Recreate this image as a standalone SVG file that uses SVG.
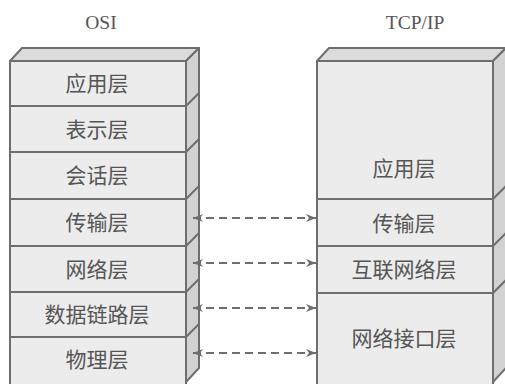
<svg xmlns="http://www.w3.org/2000/svg" width="505" height="384" viewBox="0 0 505 384">
<style>
.front{fill:#ececec;stroke:#6e6e6e;stroke-width:2}
.top{fill:#dcdcdc;stroke:#6e6e6e;stroke-width:2;stroke-linejoin:round}
.side{fill:#d2d2d2;stroke:#6e6e6e;stroke-width:2;stroke-linejoin:round}
.div{stroke:#6e6e6e;stroke-width:2;fill:none}
.lbl{font-family:"Noto Sans CJK SC","Noto Sans CJK JP",sans-serif;font-size:21px;fill:#555;text-anchor:middle}
.ttl{font-family:"Liberation Serif",serif;font-size:19.5px;fill:#555;text-anchor:middle}
.conn{stroke:#6e6e6e;stroke-width:1.8;stroke-dasharray:8 5;fill:none;marker-start:url(#ah);marker-end:url(#ah)}
</style>
<defs>
<marker id="ah" viewBox="0 0 10 8" refX="10" refY="4" markerWidth="10" markerHeight="8" markerUnits="userSpaceOnUse" orient="auto-start-reverse">
<path d="M0,0 L10,4 L0,8 L3,4 Z" fill="#6e6e6e"/>
</marker>
</defs>
<rect width="505" height="384" fill="#fff"/>
<text class="ttl" x="101" y="29">OSI</text>
<text class="ttl" x="415" y="29">TCP/IP</text>

<g id="osi-stack">
<polygon class="top" points="10,61 22,48 199,48 186,61"/>
<polygon class="side" points="186,61 199,48 199,368 186,382"/>
<path class="div" d="M186,106 L199,93 M186,152 L199,139 M186,199 L199,186 M186,246 L199,233 M186,292 L199,279 M186,337 L199,324"/>
</g>
<g id="osi-app"><rect class="front" x="10" y="61" width="176" height="45"/><text class="lbl" x="97" y="91">应用层</text></g>
<g id="osi-pres"><rect class="front" x="10" y="106" width="176" height="46"/><text class="lbl" x="97" y="137">表示层</text></g>
<g id="osi-sess"><rect class="front" x="10" y="152" width="176" height="47"/><text class="lbl" x="97" y="183">会话层</text></g>
<g id="osi-trans"><rect class="front" x="10" y="199" width="176" height="47"/><text class="lbl" x="97" y="230">传输层</text></g>
<g id="osi-net"><rect class="front" x="10" y="246" width="176" height="46"/><text class="lbl" x="97" y="277">网络层</text></g>
<g id="osi-link"><rect class="front" x="10" y="292" width="176" height="45"/><text class="lbl" x="97" y="322">数据链路层</text></g>
<g id="osi-phys"><rect class="front" x="10" y="337" width="176" height="48"/><text class="lbl" x="97" y="367">物理层</text></g>

<g id="tcp-stack">
<polygon class="top" points="317,61 329,48 506,48 493,61"/>
<polygon class="side" points="493,61 506,48 506,368 493,382"/>
<path class="div" d="M493,199 L506,186 M493,246 L506,233 M493,293 L506,280"/>
</g>
<g id="tcp-app"><rect class="front" x="317" y="61" width="176" height="138"/><text class="lbl" x="404" y="176">应用层</text></g>
<g id="tcp-trans"><rect class="front" x="317" y="199" width="176" height="47"/><text class="lbl" x="404" y="231">传输层</text></g>
<g id="tcp-inet"><rect class="front" x="317" y="246" width="176" height="47"/><text class="lbl" x="404" y="277">互联网络层</text></g>
<g id="tcp-if"><rect class="front" x="317" y="293" width="176" height="92"/><text class="lbl" x="404" y="346">网络接口层</text></g>

<g id="connectors">
<line class="conn" x1="193" y1="218" x2="316" y2="218"/>
<line class="conn" x1="193" y1="263" x2="316" y2="263"/>
<line class="conn" x1="193" y1="308" x2="316" y2="308"/>
<line class="conn" x1="193" y1="353" x2="316" y2="353"/>
</g>
</svg>
